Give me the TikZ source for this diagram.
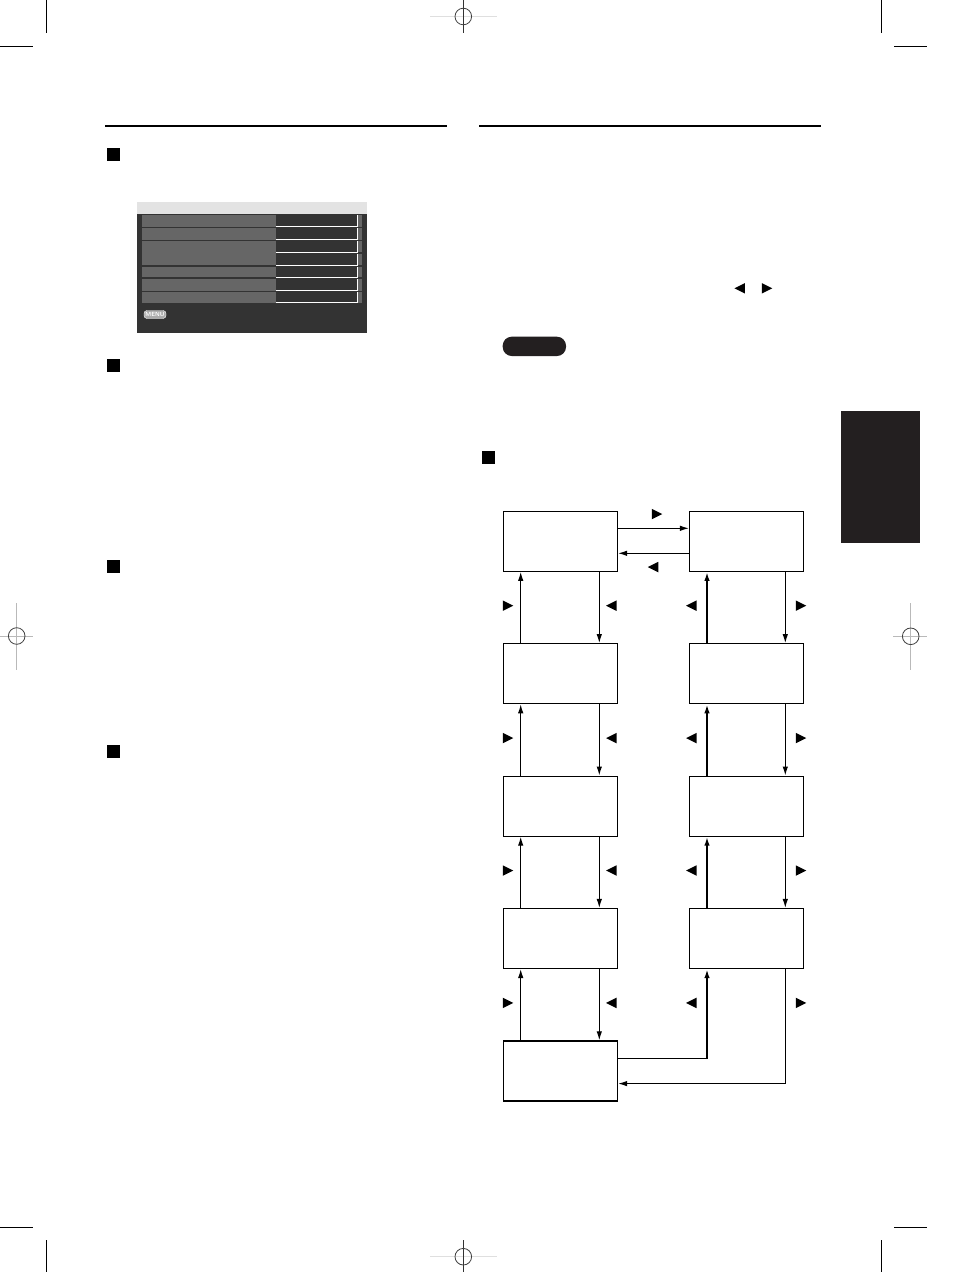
\documentclass[tikz,border=0pt]{standalone}
\usetikzlibrary{arrows.meta,shapes.geometric,calc}
\definecolor{inkblack}{HTML}{231F20}
\definecolor{osdbar}{HTML}{E3E3E3}
\definecolor{osdback}{HTML}{333333}
\definecolor{osdrow}{HTML}{666666}
\tikzset{
  menubox/.style={draw=black,line width=1.2pt,minimum width=114pt,
                  minimum height=60pt,inner sep=0pt},
  flow/.style={-{Latex[length=9pt,width=5.5pt]},line width=1.1pt},
  flowthick/.style={flow,line width=2pt},
  keyR/.style={isosceles triangle,isosceles triangle stretches,fill=black,
               inner sep=0pt,outer sep=0pt,minimum width=10.5pt,minimum height=10.5pt,
               shape border rotate=0},
  keyL/.style={keyR,shape border rotate=180},
  cropmark/.style={draw=black,line width=1pt},
  regline/.style={draw=gray!55,line width=1pt},
  headsq/.style={fill=black,minimum size=13pt,inner sep=0pt}
}
\begin{document}
\begin{tikzpicture}[x=1pt,y=-1pt]
  \useasboundingbox[fill=white] (0,0) rectangle (954,1272);

  % crop marks
  \draw[cropmark] (46,0) -- (46,33) (0,46) -- (33,46);
  \draw[cropmark] (881.5,0) -- (881.5,33) (894,46) -- (927,46);
  \draw[cropmark] (0,1227) -- (33,1227) (46,1240) -- (46,1272);
  \draw[cropmark] (894,1227) -- (927,1227) (881.5,1240) -- (881.5,1272);

  % registration marks
  \draw[regline,draw=gray!25] (430,16.5) -- (497,16.5);
  \draw[cropmark,draw=black!80] (463.3,0) -- (463.3,33);
  \draw[draw=black!75,line width=0.8pt] (463.3,16.5) circle (8.3);
  \draw[regline,draw=gray!25] (430,1256.7) -- (497,1256.7);
  \draw[cropmark,draw=black!80] (463.3,1240) -- (463.3,1272);
  \draw[draw=black!75,line width=0.8pt] (463.3,1256.7) circle (8.3);
  \draw[regline] (16.7,603) -- (16.7,670) (0,636) -- (33,636);
  \draw[draw=black!75,line width=0.8pt] (16.7,636) circle (8.3);
  \draw[regline] (910.7,603) -- (910.7,670) (893,636.3) -- (927,636.3);
  \draw[draw=black!75,line width=0.8pt] (910.7,636.3) circle (8.3);

  % rules and heading squares
  \draw[line width=1.8pt] (105,126) -- (447,126);
  \draw[line width=1.8pt] (479,126) -- (821,126);
  \node[headsq] (sqa) at (113.5,154.5) {};
  \node[headsq] (sqb) at (113.5,365.5) {};
  \node[headsq] (sqc) at (113.5,566.5) {};
  \node[headsq] (sqd) at (113.5,751.5) {};
  \node[headsq] (sqe) at (488.5,457.5) {};

  % side tab
  \fill[inkblack] (841,411) rectangle (920,543);

  % on-screen menu
  \fill[osdbar] (137,202) rectangle (367,214);
  \fill[osdback] (137,214) rectangle (367,333);
  \foreach \ya/\yb in {215/226.8,228.3/239.8,241.3/265,266.5/277.3,278.8/290.5,292/302.7}
    \fill[osdrow] (142,\ya) rectangle (276,\yb);
  \foreach \ya/\yb in {215/226.8,228.3/239.8,241.3/252.3,253.8/265,266.5/277.3,278.8/290.5,292/302.7}{
    \fill[osdrow] (357.5,\ya) rectangle (362,\yb);
    \draw[white,line width=1pt] (276,\yb) -- (357.5,\yb) -- (357.5,\ya);
  }
  \node[fill=gray!65,draw=white,line width=0.4pt,rounded corners=3pt,inner sep=0.6pt,
        minimum width=22pt,minimum height=8pt,text=white,
        font=\fontsize{6}{6}\sffamily\bfseries] (menukey) at (155,314.5) {MENU};

  % note pill and cursor keys
  \fill[inkblack,rounded corners=9pt] (502.7,336.7) rectangle (566,356);
  \node[keyL] (curl) at (741.7,288.3) {};
  \node[keyR] (curr) at (765,288.3) {};

  % flow chart boxes
  \foreach \i in {1,...,5}
    \node[menubox] (L\i) at (560.5,{541.3+132.4*(\i-1)}) {};
  \foreach \i in {1,...,4}
    \node[menubox] (R\i) at (746.5,{541.3+132.4*(\i-1)}) {};

  \draw[flow] ([yshift=13pt]L1.east) -- ([yshift=13pt]R1.west);
  \draw[flow] ([yshift=-12pt]R1.west) -- ([yshift=-12pt]L1.east);
  \node[keyR] (topr) at (655,514) {};
  \node[keyL] (topl) at (655,567) {};

  \foreach \i/\j in {1/2,2/3,3/4,4/5}{
    \draw[flow] ([xshift=-39.8pt]L\j.north) -- ([xshift=-39.8pt]L\i.south);
    \draw[flow] ([xshift=38.8pt]L\i.south) -- ([xshift=38.8pt]L\j.north);
    \node[keyR] (lu\i) at (506,{605.7+132.4*(\i-1)}) {};
    \node[keyL] (ld\i) at (613.3,{605.7+132.4*(\i-1)}) {};
    \node[keyL] (ru\i) at (693.3,{605.7+132.4*(\i-1)}) {};
    \node[keyR] (rd\i) at (799,{605.7+132.4*(\i-1)}) {};
  }
  \foreach \i/\j in {1/2,2/3,3/4}{
    \draw[flowthick] ([xshift=-39.5pt]R\j.north) -- ([xshift=-39.5pt]R\i.south);
    \draw[flow] ([xshift=38.8pt]R\i.south) -- ([xshift=38.8pt]R\j.north);
  }
  % loop back from the last item
  \coordinate (lastout) at ([yshift=12.3pt]L5.east);
  \coordinate (lastin) at ([xshift=-39.5pt]R4.south);
  \coordinate (turn) at (lastin |- lastout);
  \draw[line width=1.1pt] (lastout) -- ([xshift=0.9pt]turn);
  \draw[flowthick] ([yshift=-0.55pt]turn) -- (lastin);
  \draw[flow] ([xshift=38.8pt]R4.south) |- ([yshift=-12.7pt]L5.east);
\end{tikzpicture}
\end{document}
